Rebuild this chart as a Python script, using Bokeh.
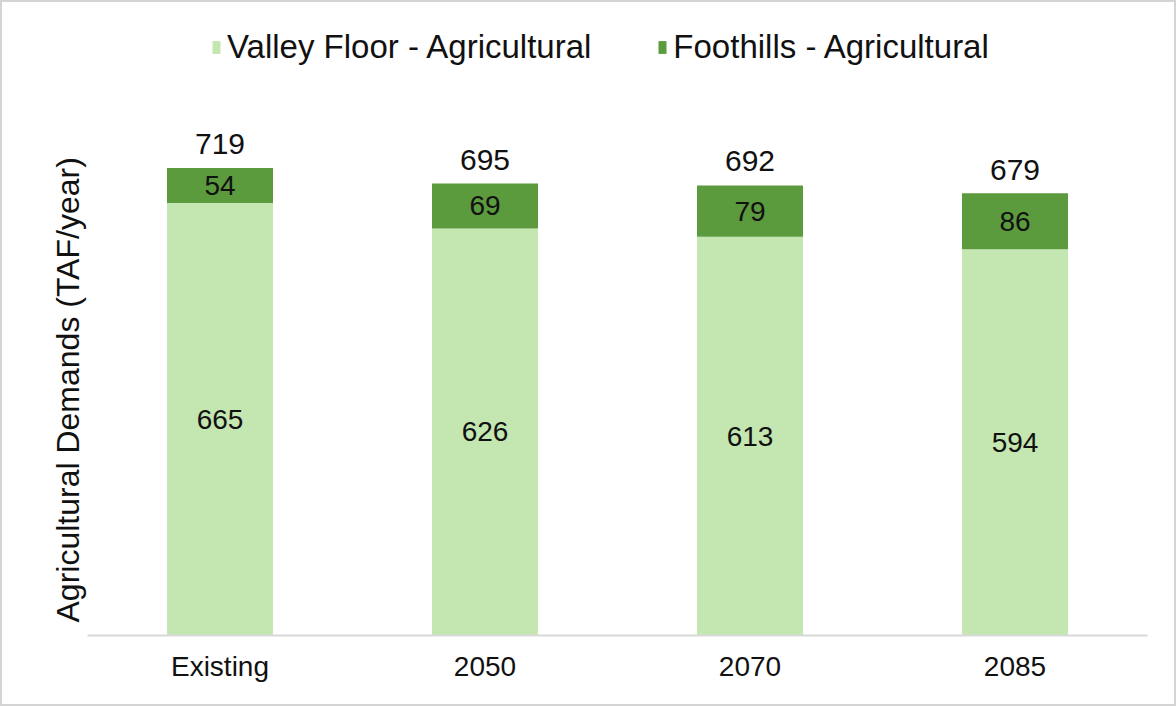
from bokeh.plotting import figure
from bokeh.models import ColumnDataSource, FactorRange, Range1d, Legend, LegendItem, Title
from bokeh.core.properties import value
from bokeh.embed import file_html
from bokeh.resources import INLINE

categories = ["Existing", "2050", "2070", "2085"]
valley_floor = [665, 626, 613, 594]
foothills = [54, 69, 79, 86]
totals = [719, 695, 692, 679]
series_names = ["Valley Floor - Agricultural", "Foothills - Agricultural"]
y_title = "Agricultural Demands (TAF/year)"

LIGHT = "#c4e6b0"
DARK = "#5c9a3e"
FONT = "Liberation Sans"

src = ColumnDataSource(dict(
    cat=categories,
    valley=valley_floor,
    foot=foothills,
    total=totals,
    valley_mid=[v / 2 for v in valley_floor],
    foot_mid=[v + f / 2 for v, f in zip(valley_floor, foothills)],
    valley_txt=[str(v) for v in valley_floor],
    foot_txt=[str(f) for f in foothills],
    total_txt=[str(t) for t in totals],
))

p = figure(width=1176, height=706, output_backend="svg", toolbar_location=None,
           x_range=FactorRange(factors=categories, range_padding=0),
           y_range=Range1d(0, 958),
           min_border_left=85, min_border_right=31, min_border_top=10, min_border_bottom=73)

rs = p.vbar_stack(["valley", "foot"], x="cat", width=0.4, color=[LIGHT, DARK],
                  line_color=None, source=src)

p.text(x="cat", y="valley_mid", text="valley_txt", source=src, text_align="center",
       text_baseline="middle", text_font=value(FONT), text_font_size="28px", text_color="#111111")
p.text(x="cat", y="foot_mid", text="foot_txt", source=src, text_align="center",
       text_baseline="middle", text_font=value(FONT), text_font_size="28px", text_color="#111111")
p.text(x="cat", y="total", text="total_txt", source=src, text_align="center",
       text_baseline="middle", y_offset=-24, text_font=value(FONT), text_font_size="30px",
       text_color="#111111")

legend = Legend(items=[LegendItem(label=series_names[0], renderers=[rs[0]]),
                       LegendItem(label=series_names[1], renderers=[rs[1]])],
                orientation="horizontal", location=(124, 569),
                label_text_font=FONT, label_text_font_size="33px", label_text_color="#111111",
                glyph_width=10, glyph_height=16, label_standoff=6, spacing=66,
                border_line_color=None, background_fill_alpha=0, margin=0)
p.add_layout(legend, "center")

p.xgrid.grid_line_color = None
p.ygrid.grid_line_color = None
p.outline_line_color = None

p.xaxis.axis_line_color = "#d9d9d9"
p.xaxis.axis_line_width = 2
p.xaxis.major_tick_line_color = None
p.xaxis.minor_tick_line_color = None
p.xaxis.major_label_text_font = FONT
p.xaxis.major_label_text_font_size = "28px"
p.xaxis.major_label_text_color = "#111111"
p.xaxis.major_label_standoff = 9

p.yaxis.visible = False
p.add_layout(Title(text=y_title, align="left", offset=13, text_font=FONT,
                   text_font_size="32px", text_font_style="normal", text_color="#111111",
                   standoff=4), "left")

p.styles = {"border": "2px solid #d4d4d4", "box-sizing": "border-box"}

open("out.html", "w").write(file_html(p, INLINE))
